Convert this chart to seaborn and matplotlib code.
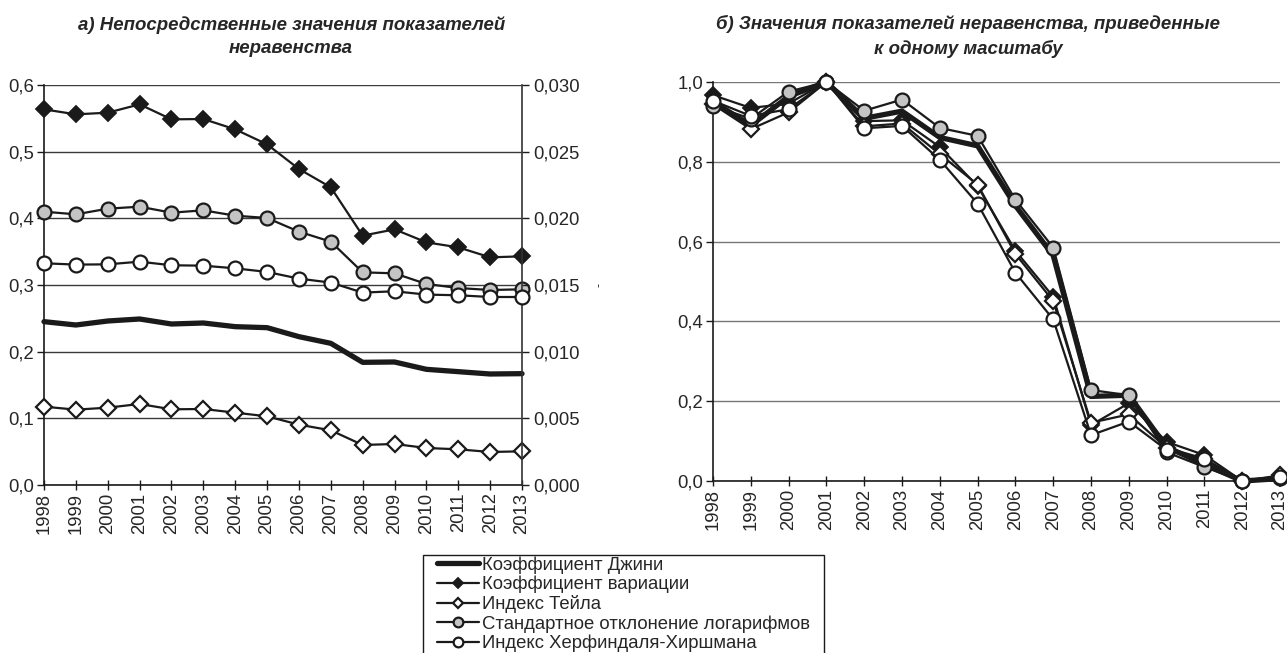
import matplotlib
matplotlib.use("Agg")
import matplotlib.pyplot as plt
import matplotlib.ticker as mticker
from matplotlib.lines import Line2D
from matplotlib.patches import Rectangle
import seaborn as sns
import pandas as pd

sns.set_theme(style="white")
plt.rcParams['font.family'] = ['Liberation Sans', 'DejaVu Sans']

years = list(range(1998, 2014))
year_labels = [str(y) for y in years]

# panel a) raw values
gini = [0.245, 0.240, 0.246, 0.249, 0.2415, 0.243, 0.2375, 0.236, 0.2225, 0.2125,
        0.184, 0.1845, 0.1735, 0.170, 0.1665, 0.167]
cv = [0.5635, 0.556, 0.5585, 0.571, 0.5485, 0.549, 0.5335, 0.511, 0.474, 0.4465,
      0.374, 0.3835, 0.364, 0.3565, 0.3415, 0.343]
theil = [0.1175, 0.113, 0.116, 0.1215, 0.1135, 0.114, 0.1085, 0.103, 0.0905, 0.082,
         0.060, 0.0615, 0.0555, 0.0535, 0.0495, 0.0505]
stdlog = [0.410, 0.406, 0.4145, 0.4175, 0.4085, 0.412, 0.404, 0.4005, 0.380, 0.365,
          0.319, 0.3175, 0.3015, 0.2955, 0.2925, 0.2935]
hhi = [0.01663, 0.01653, 0.01655, 0.01675, 0.01648, 0.01645, 0.01625, 0.01598, 0.01548, 0.01518,
       0.01443, 0.01453, 0.01428, 0.01423, 0.01410, 0.01410]

# panel б) scaled values
gini_n = [0.951, 0.891, 0.964, 1.0, 0.909, 0.927, 0.861, 0.840, 0.690, 0.565,
          0.212, 0.215, 0.085, 0.042, 0.0, 0.006]
cv_n = [0.967, 0.935, 0.946, 1.0, 0.902, 0.904, 0.837, 0.739, 0.577, 0.462,
        0.140, 0.195, 0.098, 0.065, 0.0, 0.007]
theil_n = [0.944, 0.882, 0.924, 1.0, 0.889, 0.896, 0.819, 0.743, 0.569, 0.451,
           0.146, 0.167, 0.083, 0.056, 0.0, 0.014]
stdlog_n = [0.940, 0.908, 0.976, 1.0, 0.928, 0.956, 0.885, 0.865, 0.705, 0.585,
            0.228, 0.215, 0.072, 0.035, 0.0, 0.008]
hhi_n = [0.953, 0.915, 0.932, 1.0, 0.884, 0.890, 0.805, 0.695, 0.522, 0.405,
         0.115, 0.149, 0.078, 0.054, 0.0, 0.009]

labels = ["Коэффициент Джини", "Коэффициент вариации", "Индекс Тейла",
          "Стандартное отклонение логарифмов", "Индекс Херфиндаля-Хиршмана"]
title_a = "а) Непосредственные значения показателей\nнеравенства"
title_b = "б) Значения показателей неравенства, приведенные\nк одному масштабу"

LC = "#1a1a1a"
GREY = "#c4c4c4"
styles = [
    dict(lw=3.8, marker=None),
    dict(lw=1.6, marker="D", ms=8, mfc=LC, mec=LC, mew=1.3),
    dict(lw=1.6, marker="D", ms=8, mfc="white", mec=LC, mew=1.6),
    dict(lw=1.6, marker="o", ms=10, mfc=GREY, mec=LC, mew=1.6),
    dict(lw=1.6, marker="o", ms=10, mfc="white", mec=LC, mew=1.6),
]

FS = 13.3
TFS = 13.4
fig = plt.figure(figsize=(12.87, 6.53), dpi=100)
axL = fig.add_axes([0.0342, 0.2573, 0.3714, 0.6125])
axR = fig.add_axes([0.554, 0.2634, 0.4406, 0.611])


def draw(ax, x, y, st):
    kw = dict(color=LC, linewidth=st["lw"], clip_on=False, zorder=3)
    if st["marker"]:
        kw.update(marker=st["marker"], markersize=st["ms"], markerfacecolor=st["mfc"],
                  markeredgecolor=st["mec"], markeredgewidth=st["mew"])
    sns.lineplot(x=x, y=y, ax=ax, legend=False, **kw)


def fmt(dec):
    return mticker.FuncFormatter(lambda v, p: f"{v:.{dec}f}".replace(".", ","))


# ---- Left panel
axR2 = axL.twinx()
draw(axL, years, gini, styles[0])
draw(axL, years, cv, styles[1])
draw(axL, years, theil, styles[2])
draw(axL, years, stdlog, styles[3])
draw(axR2, years, hhi, styles[4])

axL.set_xlim(1998, 2013)
axL.set_ylim(0, 0.6)
axR2.set_ylim(0, 0.030)
axL.set_yticks([0, 0.1, 0.2, 0.3, 0.4, 0.5, 0.6])
axR2.set_yticks([0, 0.005, 0.010, 0.015, 0.020, 0.025, 0.030])
axL.yaxis.set_major_formatter(fmt(1))
axR2.yaxis.set_major_formatter(fmt(3))
axL.set_xticks(years)
axL.set_xticklabels(year_labels, rotation=90)
axL.grid(axis="y", color="#3a3a3a", lw=1.0)
axL.set_axisbelow(True)
for ax in (axL, axR2):
    ax.set_facecolor("none")
    ax.set_xlabel("")
    ax.set_ylabel("")
axL.spines["top"].set_visible(False)
axR2.spines["top"].set_visible(False)
for s in ("left", "bottom"):
    axL.spines[s].set_color(LC)
    axL.spines[s].set_linewidth(1.2)
axL.spines["right"].set_visible(False)
axR2.spines["left"].set_visible(False)
axR2.spines["bottom"].set_visible(False)
axR2.spines["right"].set_color("#333333")
axR2.spines["right"].set_linewidth(1.2)
axL.tick_params(axis="y", which="both", left=True, direction="out", length=5,
                width=1, color=LC, labelsize=FS, pad=2)
axL.tick_params(axis="x", bottom=True, direction="inout", length=7, width=1,
                color=LC, labelsize=FS, pad=2)
axR2.tick_params(axis="y", right=True, direction="out", length=5, width=1,
                 color=LC, labelsize=FS, pad=3)
axR2.set_ylabel("-", rotation=90, fontsize=9, labelpad=10)
axL.set_title(title_a, fontsize=TFS, fontweight="bold", fontstyle="italic",
              pad=23, linespacing=1.5, x=0.517)

# ---- Right panel
draw(axR, years, gini_n, styles[0])
draw(axR, years, cv_n, styles[1])
draw(axR, years, theil_n, styles[2])
draw(axR, years, stdlog_n, styles[3])
draw(axR, years, hhi_n, styles[4])
axR.set_xlim(1998, 2013)
axR.set_ylim(0, 1.0)
axR.set_yticks([0, 0.2, 0.4, 0.6, 0.8, 1.0])
axR.yaxis.set_major_formatter(fmt(1))
axR.set_xticks(years)
axR.set_xticklabels(year_labels, rotation=90)
axR.grid(axis="y", color="#777777", lw=1.0)
axR.set_axisbelow(True)
axR.set_xlabel("")
axR.set_ylabel("")
axR.spines["top"].set_visible(False)
axR.spines["right"].set_visible(False)
for s in ("left", "bottom"):
    axR.spines[s].set_color(LC)
    axR.spines[s].set_linewidth(1.2)
axR.tick_params(axis="y", left=True, direction="out", length=5, width=1,
                color=LC, labelsize=FS, pad=2)
axR.tick_params(axis="x", bottom=True, direction="inout", length=7, width=1,
                color=LC, labelsize=FS, pad=2)
axR.set_title(title_b, fontsize=TFS, fontweight="bold", fontstyle="italic",
              pad=20, linespacing=1.5, x=0.45)

# ---- Legend (frame drawn separately so the handles sit inset)
handles = []
for st in styles:
    kw = dict(color=LC, linewidth=st["lw"])
    if st["marker"]:
        kw.update(marker=st["marker"], markersize=st["ms"] * 0.7,
                  markerfacecolor=st["mfc"], markeredgecolor=st["mec"],
                  markeredgewidth=st["mew"])
    handles.append(Line2D([0], [0], **kw))
fig.patches.append(Rectangle((0.3287, -0.02), 0.3116, 0.170, transform=fig.transFigure,
                             facecolor="white", edgecolor=LC, linewidth=1.0, zorder=0))
leg = fig.legend(handles, labels, loc="upper left", bbox_to_anchor=(0.3395, 0.1485),
                 frameon=False, fontsize=FS, handlelength=2.3,
                 handletextpad=0.15, labelspacing=0.11, borderpad=0.0,
                 borderaxespad=0)

fig.savefig("out.png", dpi=100)
